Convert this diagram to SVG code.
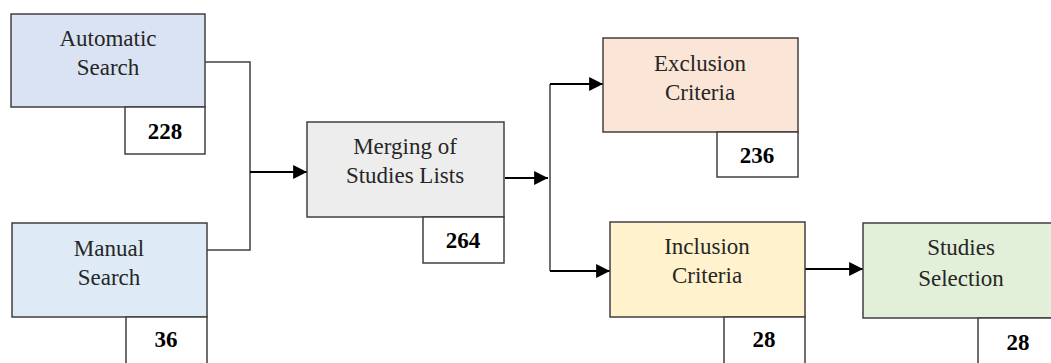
<svg xmlns="http://www.w3.org/2000/svg" width="1051" height="363" viewBox="0 0 1051 363">
<defs>
<style>
.box{stroke:#404040;stroke-width:1.5}
.badge{fill:#ffffff;stroke:#404040;stroke-width:1.5}
.lbl{font-family:"Liberation Serif","Times New Roman",serif;font-size:23px;fill:#262626;text-anchor:middle}
.num{font-family:"Liberation Serif","Times New Roman",serif;font-size:23px;font-weight:bold;fill:#000000;text-anchor:middle}
.ln{fill:none;stroke:#404040;stroke-width:1.5}
.arr{fill:none;stroke:#000000;stroke-width:2.2}
</style>
<marker id="ah" viewBox="0 0 10 10" refX="10" refY="5" markerWidth="6.3" markerHeight="6.3" markerUnits="strokeWidth" orient="auto">
<path d="M0,0 L10,5 L0,10 Z" fill="#000000"/>
</marker>
</defs>
<rect width="1051" height="363" fill="#ffffff"/>
<g id="connectors">
<polyline class="ln" points="205,62 250,62 250,250 207,250"/>
<line class="arr" x1="250" y1="172" x2="307" y2="172" marker-end="url(#ah)"/>
<line class="arr" x1="505" y1="178" x2="548" y2="178" marker-end="url(#ah)"/>
<polyline class="ln" points="550,84 550,271"/>
<line class="arr" x1="550" y1="84" x2="603" y2="84" marker-end="url(#ah)"/>
<line class="arr" x1="550" y1="271" x2="610" y2="271" marker-end="url(#ah)"/>
<line class="arr" x1="805" y1="269" x2="863" y2="269" marker-end="url(#ah)"/>
</g>
<g id="automatic-search">
<rect class="box" x="11" y="14" width="194" height="93" fill="#dae3f3"/>
<text class="lbl" x="108" y="46">Automatic</text>
<text class="lbl" x="108" y="75">Search</text>
<rect class="badge" x="125" y="107" width="80" height="47"/>
<text class="num" x="165" y="139">228</text>
</g>
<g id="manual-search">
<rect class="box" x="12" y="223" width="195" height="94" fill="#deebf7"/>
<text class="lbl" x="109" y="256">Manual</text>
<text class="lbl" x="109" y="285">Search</text>
<rect class="badge" x="126" y="317" width="81" height="55"/>
<text class="num" x="166" y="347">36</text>
</g>
<g id="merging">
<rect class="box" x="307" y="122" width="197" height="95" fill="#ededed"/>
<text class="lbl" x="405" y="154">Merging of</text>
<text class="lbl" x="405" y="183">Studies Lists</text>
<rect class="badge" x="423" y="217" width="81" height="46"/>
<text class="num" x="463" y="248">264</text>
</g>
<g id="exclusion">
<rect class="box" x="603" y="38" width="195" height="94" fill="#fbe5d6"/>
<text class="lbl" x="700" y="71">Exclusion</text>
<text class="lbl" x="700" y="100">Criteria</text>
<rect class="badge" x="717" y="132" width="81" height="45"/>
<text class="num" x="757" y="163">236</text>
</g>
<g id="inclusion">
<rect class="box" x="610" y="222" width="195" height="95" fill="#fff2cc"/>
<text class="lbl" x="707" y="254">Inclusion</text>
<text class="lbl" x="707" y="283">Criteria</text>
<rect class="badge" x="724" y="317" width="81" height="55"/>
<text class="num" x="764" y="347">28</text>
</g>
<g id="studies-selection">
<rect class="box" x="863" y="223" width="196" height="95" fill="#e2f0d9"/>
<text class="lbl" x="961" y="255">Studies</text>
<text class="lbl" x="961" y="286">Selection</text>
<rect class="badge" x="978" y="318" width="81" height="55"/>
<text class="num" x="1018" y="350">28</text>
</g>
</svg>
